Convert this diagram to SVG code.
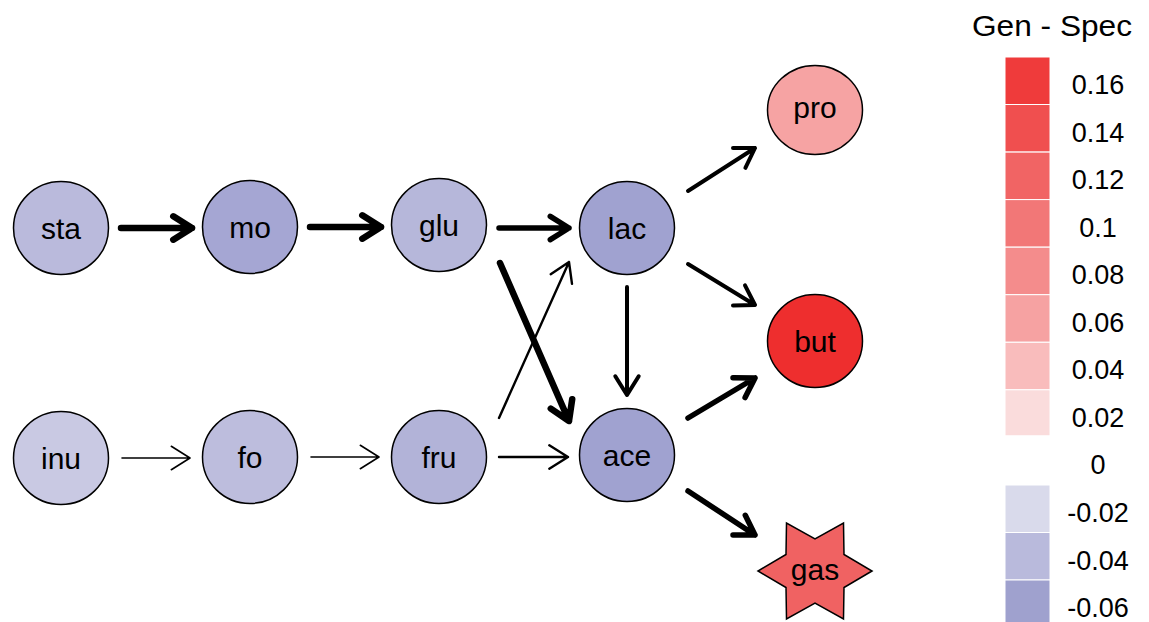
<svg xmlns="http://www.w3.org/2000/svg" width="1149" height="622" viewBox="0 0 1149 622">
<style>
  .node { stroke: #000; stroke-width: 1.5; }
  .lbl { font-family: "Liberation Sans", Arial, sans-serif; font-size: 30px; text-anchor: middle; fill: #000; }
  .edge { fill: none; stroke: #000; stroke-linecap: round; stroke-linejoin: round; }
  .w1 { stroke-width: 1.6; }
  .w2 { stroke-width: 2.4; }
  .w4 { stroke-width: 4; }
  .w5 { stroke-width: 5.5; }
  .w6 { stroke-width: 6.5; }
  .leg { font-family: "Liberation Sans", Arial, sans-serif; font-size: 27px; text-anchor: middle; fill: #000; }
  .box { stroke: #fff; stroke-width: 1; }
</style>
<rect width="1149" height="622" fill="#fff"/>
<g id="connectors">
  <path class="edge w6" d="M121 228 L192 228 M173.3 216.3 L192 228 L173.3 239.7"/>
  <path class="edge w6" d="M310 227 L381 227 M362.3 215.3 L381 227 L362.3 238.7"/>
  <path class="edge w5" d="M499 228 L569 228 M550.3 216.3 L569 228 L550.3 239.7"/>
  <path class="edge w6" d="M500 263 L569 421 M572.2 399.2 L569 421 L550.8 408.6"/>
  <path class="edge w2" d="M499 418 L569 262 M550.7 274.2 L569 262 L572 283.8"/>
  <path class="edge w4" d="M627 287 L627 395 M638.7 376.3 L627 395 L615.3 376.3"/>
  <path class="edge w1" d="M122 458 L190 458 M171.3 446.3 L190 458 L171.3 469.7"/>
  <path class="edge w1" d="M311 457 L379 457 M360.3 445.3 L379 457 L360.3 468.7"/>
  <path class="edge w2" d="M499 457 L568 457 M549.3 445.3 L568 457 L549.3 468.7"/>
  <path class="edge w4" d="M688 191 L755 148 M733 148 L755 148 L745.4 167.8"/>
  <path class="edge w4" d="M688 264 L755 305 M745 285.4 L755 305 L733 305.4"/>
  <path class="edge w5" d="M688 418 L755 378 M733 377.7 L755 378 L745.1 397.6"/>
  <path class="edge w5" d="M688 491 L755 535 M745.3 515.3 L755 535 L733 535.1"/>
</g>
<g id="sta"><ellipse class="node" cx="61" cy="228" rx="47.5" ry="46.5" fill="#BABADC"/><text class="lbl" x="61" y="239">sta</text></g>
<g id="mo"><ellipse class="node" cx="250" cy="227" rx="47.5" ry="46.5" fill="#A5A6D3"/><text class="lbl" x="250" y="238">mo</text></g>
<g id="glu"><ellipse class="node" cx="439" cy="225" rx="47.5" ry="46.5" fill="#B6B7DA"/><text class="lbl" x="439" y="236">glu</text></g>
<g id="lac"><ellipse class="node" cx="627" cy="228" rx="47.5" ry="46.5" fill="#A0A2D0"/><text class="lbl" x="627" y="239">lac</text></g>
<g id="inu"><ellipse class="node" cx="61" cy="458" rx="47.5" ry="46.5" fill="#C9C9E3"/><text class="lbl" x="61" y="469">inu</text></g>
<g id="fo"><ellipse class="node" cx="250" cy="457" rx="47.5" ry="46.5" fill="#BDBDDD"/><text class="lbl" x="250" y="468">fo</text></g>
<g id="fru"><ellipse class="node" cx="439" cy="457" rx="47.5" ry="46.5" fill="#B2B3D8"/><text class="lbl" x="439" y="468">fru</text></g>
<g id="ace"><ellipse class="node" cx="627" cy="455" rx="47.5" ry="46.5" fill="#A0A2D0"/><text class="lbl" x="627" y="466">ace</text></g>
<g id="pro"><ellipse class="node" cx="815" cy="110" rx="47.5" ry="44.5" fill="#F6A3A3"/><text class="lbl" x="815" y="118">pro</text></g>
<g id="but"><ellipse class="node" cx="815" cy="341" rx="47.5" ry="46.5" fill="#EE2E2E"/><text class="lbl" x="815" y="352">but</text></g>
<g id="gas"><polygon class="node" fill="#F06262" points="872,571 844,587.5 843.5,619 815,603 786.5,619 786,587.5 758,571 786,554.5 786.5,523 815,539 843.5,523 844,554.5"/><text class="lbl" x="815" y="580">gas</text></g>
<g id="legend">
  <text class="leg" x="1052" y="36" textLength="160" lengthAdjust="spacingAndGlyphs" style="font-size:29px">Gen - Spec</text>
  <rect class="box" x="1005" y="57" width="45" height="47.5" fill="#EF3B3B"/>
  <rect class="box" x="1005" y="104.5" width="45" height="47.5" fill="#F04F4F"/>
  <rect class="box" x="1005" y="152.1" width="45" height="47.5" fill="#F16464"/>
  <rect class="box" x="1005" y="199.6" width="45" height="47.5" fill="#F27777"/>
  <rect class="box" x="1005" y="247.2" width="45" height="47.5" fill="#F48C8C"/>
  <rect class="box" x="1005" y="294.7" width="45" height="47.5" fill="#F6A2A2"/>
  <rect class="box" x="1005" y="342.3" width="45" height="47.5" fill="#F9BCBC"/>
  <rect class="box" x="1005" y="389.8" width="45" height="46" fill="#FADCDC"/>
  <rect class="box" x="1005" y="485" width="45" height="47.5" fill="#D9DAEB"/>
  <rect class="box" x="1005" y="532.5" width="45" height="47.5" fill="#B9BADC"/>
  <rect class="box" x="1005" y="580" width="45" height="47.5" fill="#9FA1CE"/>
  <text class="leg" x="1098" y="94">0.16</text>
  <text class="leg" x="1098" y="141.5">0.14</text>
  <text class="leg" x="1098" y="189">0.12</text>
  <text class="leg" x="1098" y="236.5">0.1</text>
  <text class="leg" x="1098" y="284">0.08</text>
  <text class="leg" x="1098" y="331.5">0.06</text>
  <text class="leg" x="1098" y="379">0.04</text>
  <text class="leg" x="1098" y="426.5">0.02</text>
  <text class="leg" x="1098" y="474">0</text>
  <text class="leg" x="1098" y="522">-0.02</text>
  <text class="leg" x="1098" y="569.5">-0.04</text>
  <text class="leg" x="1098" y="617">-0.06</text>
</g>
</svg>
